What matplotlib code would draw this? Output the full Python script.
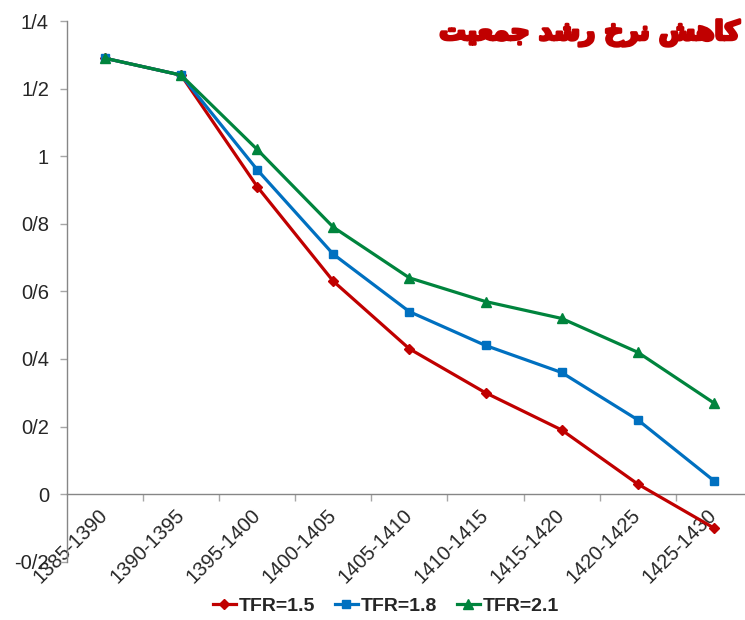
import matplotlib
matplotlib.use("Agg")
import matplotlib.pyplot as plt
import matplotlib.patheffects as pe
from matplotlib.ticker import FixedLocator, NullFormatter

# Periods on the x axis
periods = ["1385-1390", "1390-1395", "1395-1400", "1400-1405", "1405-1410",
           "1410-1415", "1415-1420", "1420-1425", "1425-1430"]

# Population growth rate for three fertility scenarios
tfr_15 = [1.29, 1.24, 0.91, 0.63, 0.43, 0.30, 0.19, 0.03, -0.10]
tfr_18 = [1.29, 1.24, 0.96, 0.71, 0.54, 0.44, 0.36, 0.22, 0.04]
tfr_21 = [1.29, 1.24, 1.02, 0.79, 0.64, 0.57, 0.52, 0.42, 0.27]

series_labels = ["TFR=1.5", "TFR=1.8", "TFR=2.1"]

y_ticks = [-0.2, 0.0, 0.2, 0.4, 0.6, 0.8, 1.0, 1.2, 1.4]
y_tick_labels = ["-0/2", "0", "0/2", "0/4", "0/6", "0/8", "1", "1/2", "1/4"]

# "کاهش نرخ رشد جمعیت" in Arabic presentation forms (matplotlib does no shaping),
# reversed so it reads right-to-left on screen
title_logical = ("\uFB90\uFE8E\uFEEB\uFEB6 "
                 "\uFEE7\uFEAE\uFEA5 "
                 "\uFEAD\uFEB7\uFEAA "
                 "\uFE9F\uFEE4\uFECC\uFBFF\uFE96")
title_visual = title_logical[::-1]

plt.rcParams["font.family"] = ["Liberation Sans", "DejaVu Sans"]

AXIS_GRAY = "#868686"
TICK_GRAY = "#A6A6A6"
TEXT = "#262626"

fig = plt.figure(figsize=(7.45, 6.2), dpi=100)
ax = fig.add_axes([0.0899, 0.094, 0.9101, 0.872])

x = list(range(len(periods)))
ax.plot(x, tfr_15, color="#C00000", lw=2.3, marker="D", ms=5,
        label=series_labels[0], zorder=3)
ax.plot(x, tfr_18, color="#0070C0", lw=2.3, marker="s", ms=6,
        label=series_labels[1], zorder=4)
ax.plot(x, tfr_21, color="#00843D", lw=2.3, marker="^", ms=7,
        label=series_labels[2], zorder=5)

ax.set_xlim(-0.5, 8.41)
ax.set_ylim(-0.2, 1.4)

for side in ("top", "right"):
    ax.spines[side].set_visible(False)
ax.spines["left"].set_color(AXIS_GRAY)
ax.spines["bottom"].set_color(AXIS_GRAY)
ax.spines["bottom"].set_position(("data", 0))
ax.spines["left"].set_linewidth(1.0)
ax.spines["bottom"].set_linewidth(1.0)

ax.set_yticks(y_ticks)
ax.set_yticklabels(y_tick_labels)
ax.tick_params(axis="y", colors=TICK_GRAY, labelcolor=TEXT, labelsize=14.5,
               length=5, width=1, direction="out", pad=8)

# tick marks between categories, labels at category centres
ax.xaxis.set_major_locator(FixedLocator([i + 0.5 for i in x]))
ax.xaxis.set_major_formatter(NullFormatter())
ax.xaxis.set_minor_locator(FixedLocator(x))
ax.set_xticklabels(periods, minor=True)
ax.tick_params(axis="x", which="major", colors=TICK_GRAY, length=5, width=1,
               direction="out")
ax.tick_params(axis="x", which="minor", length=0, labelcolor=TEXT,
               labelsize=14.5, pad=13)
for lbl in ax.get_xticklabels(minor=True):
    lbl.set_rotation(45)
    lbl.set_rotation_mode("anchor")
    lbl.set_ha("right")
    lbl.set_va("center")

leg = ax.legend(loc="center", ncol=3, frameon=False,
                handlelength=1.2, handletextpad=0.15, columnspacing=1.0,
                prop={"weight": "bold", "size": 14})
for t in leg.get_texts():
    t.set_color(TEXT)
leg.set_bbox_to_anchor((0.518, 0.022), transform=fig.transFigure)

fig.text(0.993, 0.947, title_visual, color="#C00000", fontsize=19,
         fontweight="bold", family=["DejaVu Sans"], ha="right", va="center",
         path_effects=[pe.withStroke(linewidth=2.2, foreground="#C00000")])

fig.savefig("out.png", dpi=100)
